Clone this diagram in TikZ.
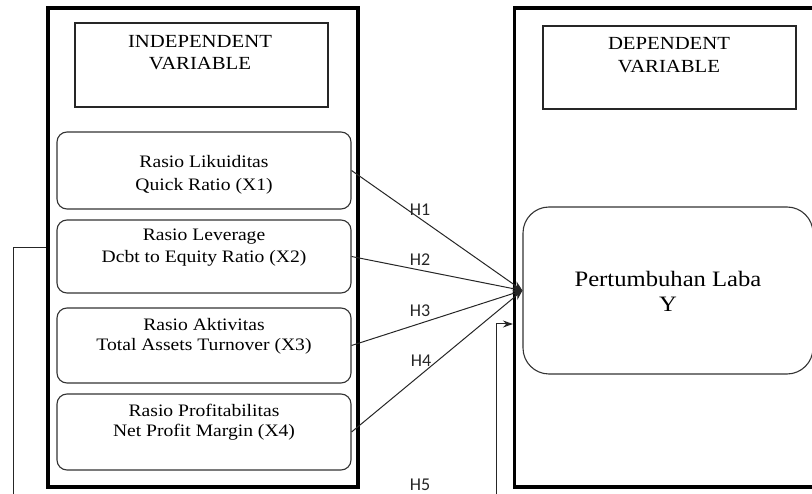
\documentclass[tikz,border=0pt]{standalone}
\usepackage{fontspec}
\setmainfont{Liberation Serif}[FakeStretch=1.12]
\newfontfamily\hfont{Carlito}
\usetikzlibrary{arrows.meta}
\tikzset{
  bigbox/.style={draw=black, line width=3.5pt, rectangle, inner sep=0pt},
  hbox/.style={draw=black!85, line width=1.2pt, rectangle, inner sep=0pt, minimum width=253, fill=white},
  rbox/.style={draw=black!80, line width=1.1pt, rectangle, rounded corners=10pt, inner sep=0pt, minimum width=294, fill=white},
  ybox/.style={draw=black!80, line width=1.1pt, rectangle, rounded corners=26pt, inner sep=0pt, fill=white},
  hd/.style={anchor=base, inner sep=0pt, font=\fontsize{18.5}{22}\selectfont, text=black},
  lab/.style={anchor=base, inner sep=0pt, font=\fontsize{17.5}{21}\selectfont, text=black},
  ylab/.style={anchor=base, inner sep=0pt, font=\fontsize{22}{25}\selectfont, text=black},
  hyp/.style={inner sep=0pt, font=\hfont\fontsize{18}{20}\selectfont, text=black!85},
  conn/.style={draw=black!85, line width=1pt, -{Stealth[length=10pt,width=8pt]}},
  fb/.style={draw=black!85, line width=1pt}
}
\begin{document}
\begin{tikzpicture}[x=1pt, y=-1pt]
\useasboundingbox (0,0) rectangle (812,494);
\clip (0,0) rectangle (812,494);
% big containers
\node[bigbox, minimum width=310, minimum height=479] (left) at (203,247.5) {};
\node[bigbox, minimum width=385, minimum height=479] (right) at (707.2,247.5) {};
% header boxes
\node[hbox, minimum height=84] (ind) at (201.5,65) {};
\node[hd] (ind1) at (200,48) {INDEPENDENT};
\node[hd] (ind2) at (200,70) {VARIABLE};
\node[hbox, minimum height=83] (dep) at (669.5,67.5) {};
\node[hd] (dep1) at (669,50) {DEPENDENT};
\node[hd] (dep2) at (669,73) {VARIABLE};
% independent variables
\node[rbox, minimum height=77] (x1) at (204,170.5) {};
\node[lab] (x1a) at (204,168) {Rasio Likuiditas};
\node[lab] (x1b) at (204,191) {Quick Ratio (X1)};
\node[rbox, minimum height=73] (x2) at (204,256.5) {};
\node[lab] (x2a) at (204,241) {Rasio Leverage};
\node[lab] (x2b) at (204,263) {Dcbt to Equity Ratio (X2)};
\node[rbox, minimum height=75] (x3) at (204,345.5) {};
\node[lab] (x3a) at (204,331) {Rasio Aktivitas};
\node[lab] (x3b) at (204,351) {Total Assets Turnover (X3)};
\node[rbox, minimum height=76] (x4) at (204,432) {};
\node[lab] (x4a) at (204,417) {Rasio Profitabilitas};
\node[lab] (x4b) at (204,437) {Net Profit Margin (X4)};
% dependent variable
\node[ybox, minimum width=290, minimum height=167] (y) at (668,290.5) {};
\node[ylab] (y1) at (668,287) {Pertumbuhan Laba};
\node[ylab] (y2) at (668,312) {Y};
% connectors
\draw[conn] (x1.east) -- (y.west);
\draw[conn] (x2.east) -- (y.west);
\draw[conn] (x3.east) -- (y.west);
\draw[conn] (x4.east) -- (y.west);
% hypothesis labels
\node[hyp] (h1) at (420,209.5) {H1};
\node[hyp] (h2) at (420,260) {H2};
\node[hyp] (h3) at (420,310.5) {H3};
\node[hyp] (h4) at (421,360.5) {H4};
\node[hyp] (h5) at (420,484.5) {H5};
% feedback path (runs below the visible area)
\coordinate (f1) at (13,247.5);
\coordinate (f2) at (13,520);
\coordinate (f3) at (496,520);
\coordinate (f4) at (496,324);
\draw[fb, -{Stealth[length=10pt,width=7pt]}] (left.west) -- (f1) -- (f2) -- (f3) -- (f4) -- (right.west |- f4);
\end{tikzpicture}
\end{document}
